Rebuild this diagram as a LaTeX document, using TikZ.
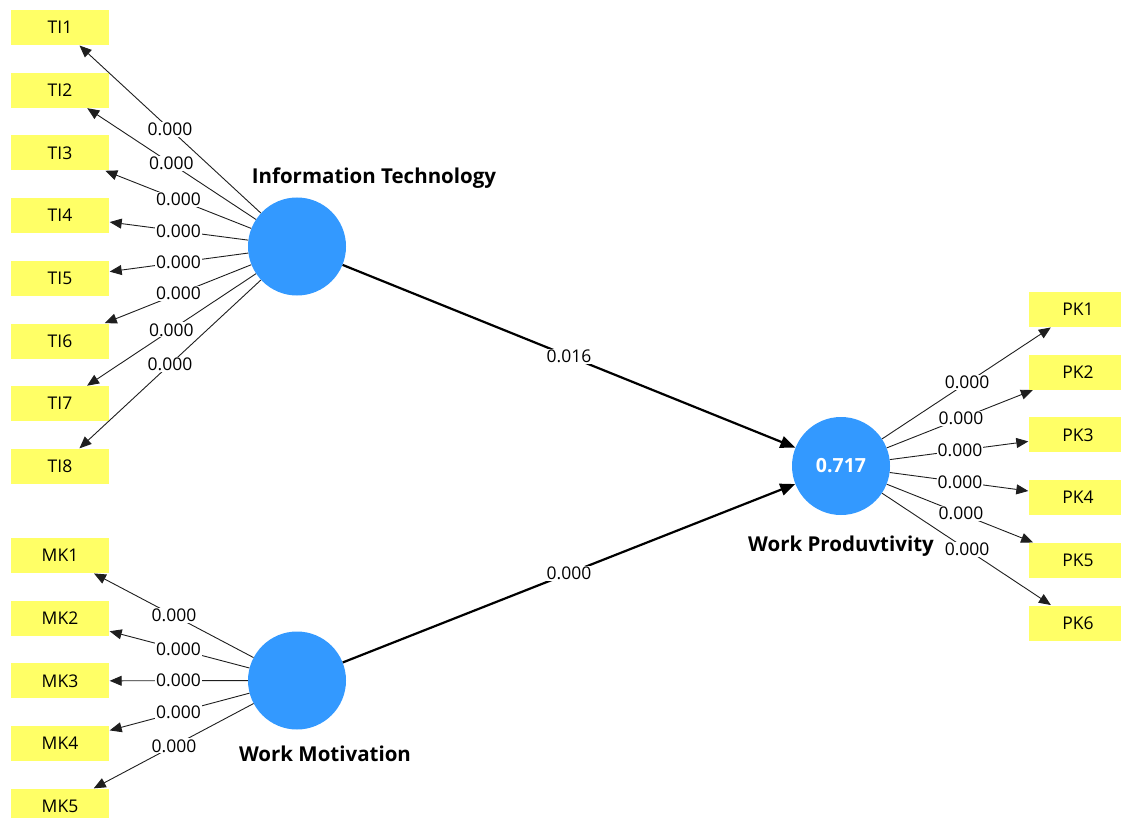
\documentclass[tikz,border=0pt]{standalone}
\usepackage{fontspec}
\setmainfont{Open Sans}
\usetikzlibrary{arrows.meta,calc}
\definecolor{lvblue}{RGB}{51,153,255}
\definecolor{mvyellow}{RGB}{255,255,102}
\definecolor{linegray}{RGB}{30,30,30}
\begin{document}
\begin{tikzpicture}[x=1pt,y=-1pt,
  mv/.style={fill=mvyellow,minimum width=98pt,minimum height=35pt,inner sep=0pt,font=\fontsize{17.5}{20}\selectfont},
  lv/.style={circle,fill=lvblue,minimum size=98pt,inner sep=0pt},
  ld/.style={draw=linegray,-{Triangle[length=12pt,width=10pt]},line width=0.9pt,shorten >=0.5pt},
  pathedge/.style={draw=black,-{Triangle[length=15pt,width=12pt]},line width=2.2pt},
  val/.style={fill=white,inner sep=1pt,font=\fontsize{17.5}{20}\selectfont},
  lvname/.style={font=\bfseries\fontsize{20.5}{24}\selectfont}]
\useasboundingbox (0,0) rectangle (1121,818);
\clip (0,0) rectangle (1121,818);
% latent variables
\node[lv] (IT) at (297,246.5) {};
\node[lv] (WM) at (297,680.5) {};
\node[lv,font=\bfseries\fontsize{19.5}{22}\selectfont,text=white] (WP) at (841,466) {0.717};
\node[lvname] (ITn) at (374,178) {Information Technology};
\node[lvname] (WMn) at (325,754) {Work Motivation};
\node[lvname] (WPn) at (841,546) {Work Produvtivity};
% indicators
\foreach \i in {1,...,8} {
  \node[mv] (TI\i) at (60,{27.5+62.7*(\i-1)}) {TI\i};
}
\foreach \i in {1,...,5} {
  \node[mv] (MK\i) at (60,{555.5+62.7*(\i-1)}) {MK\i};
}
\foreach \i in {1,...,6} {
  \node[mv] (PK\i) at (1078,{309.5+62.7*(\i-1)}) {PK\i};
}
% edges
\foreach \i in {1,...,8} { \draw[ld] (IT) -- (TI\i); }
\foreach \i in {1,...,5} { \draw[ld] (WM) -- (MK\i); }
\foreach \i in {1,...,6} { \draw[ld] (WP) -- (PK\i); }
\draw[pathedge] (IT) -- (WP);
\draw[pathedge] (WM) -- (WP);
% edge values
\foreach \i/\t in {1/0.536,2/0.53,3/0.5,4/0.5,5/0.5,6/0.5,7/0.53,8/0.536} {
  \node[val] (vTI\i) at ($(IT.center)!\t!(TI\i.center)$) {0.000};
}
\foreach \i/\t in {1/0.519,2/0.5,3/0.5,4/0.5,5/0.519} {
  \node[val] (vMK\i) at ($(WM.center)!\t!(MK\i.center)$) {0.000};
}
\foreach \i/\t in {1/0.532,2/0.506,3/0.502,4/0.502,5/0.506,6/0.532} {
  \node[val] (vPK\i) at ($(WP.center)!\t!(PK\i.center)$) {0.000};
}
\node[val] (vIT) at ($(IT.center)!0.5!(WP.center)$) {0.016};
\node[val] (vWM) at ($(WM.center)!0.5!(WP.center)$) {0.000};
\end{tikzpicture}
\end{document}
